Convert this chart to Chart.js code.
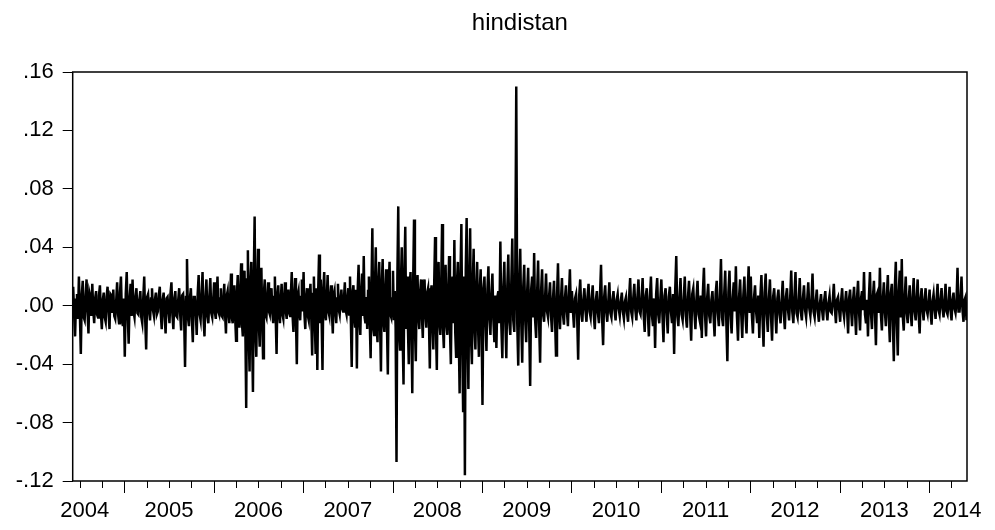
<!DOCTYPE html>
<html>
<head>
<meta charset="utf-8">
<script src="https://cdn.jsdelivr.net/npm/chart.js@4.4.1/dist/chart.umd.min.js"></script>
<style>
  html, body { margin: 0; padding: 0; background: #fff; }
  #wrap { width: 995px; height: 530px; }
</style>
</head>
<body>
<div id="wrap"><canvas id="c" width="995" height="530"></canvas></div>
<script>
// daily returns
const r2004 = [0.013, -0.006, -0.021, 0.004, 0.008, -0.009, 0.020, -0.005, -0.033, 0.007, 0.017, -0.008, -0.010, 0.006,
  0.018, -0.004, -0.019, 0.009, 0.006, -0.007, 0.015, -0.003, -0.012, 0.005, 0.010, -0.006, -0.008, 0.007, 0.014, -0.005,
  -0.016, 0.004, 0.009, -0.008, -0.011, 0.006, 0.013, -0.004, -0.016, 0.008, 0.007, -0.005, 0.011, -0.007, -0.009, 0.003,
  0.016, -0.006, -0.012, 0.009, 0.020, -0.007, -0.014, 0.005];
const r2005 = [-0.035, 0.008, 0.023, -0.006, -0.026, 0.005, 0.015, -0.007, 0.018, -0.004, -0.008, 0.006, 0.012, -0.005,
  -0.006, 0.004, 0.010, -0.008, -0.012, 0.005, 0.020, -0.009, -0.030, 0.006, 0.008, -0.004, -0.010, 0.005, 0.012, -0.003,
  -0.007, 0.004, 0.009, -0.006, -0.004, 0.007, 0.013, -0.005, -0.016, 0.004, 0.009, -0.007, -0.019, 0.005, 0.006, -0.004,
  -0.012, 0.008, 0.016, -0.006, -0.016, 0.005, 0.010, -0.007, -0.008, 0.004, 0.012, -0.006, -0.017, 0.007, 0.008, -0.005,
  -0.042, 0.006, 0.032, -0.008, -0.014, 0.005, 0.012, -0.009, -0.025, 0.006, 0.006, -0.004, -0.020, 0.008, 0.021, -0.006,
  -0.010, 0.007, 0.023, -0.008, -0.021, 0.005, 0.018, -0.007, -0.012, 0.006, 0.019, -0.005, -0.008, 0.004];
const r2006 = [0.016, -0.005, -0.009, 0.006, 0.020, -0.004, -0.006, 0.005, 0.012, -0.007, -0.008, 0.004, 0.015, -0.006,
  -0.019, 0.007, 0.010, -0.005, -0.012, 0.006, 0.022, -0.008, -0.012, 0.005, 0.014, -0.009, -0.024, 0.008, 0.021, -0.007,
  -0.015, 0.010, 0.029, -0.012, -0.021, 0.011, 0.024, -0.015, -0.070, 0.018, 0.038, -0.020, -0.045, 0.016, 0.030, -0.022,
  -0.059, 0.020, 0.061, -0.018, -0.035, 0.014, 0.039, -0.012, -0.028, 0.010, 0.026, -0.011, -0.036, 0.009, 0.018, -0.006,
  -0.008, 0.005, 0.016, -0.004, -0.006, 0.007, 0.012, -0.005, -0.012, 0.006, 0.020, -0.008, -0.033, 0.007, 0.014, -0.005,
  -0.012, 0.004, 0.015, -0.006, -0.009, 0.005, 0.016, -0.004, -0.009, 0.006, 0.011, -0.005, -0.007, 0.008, 0.023, -0.007,
  -0.018, 0.006, 0.019, -0.009, -0.040, 0.007, 0.010, -0.005, -0.010, 0.006, 0.018, -0.004];
const r2007 = [0.023, -0.006, -0.016, 0.005, 0.012, -0.007, -0.010, 0.006, 0.015, -0.009, -0.034, 0.008, 0.020, -0.010,
  -0.033, 0.012, -0.044, 0.010, 0.035, -0.012, 0.018, -0.009, -0.044, 0.011, 0.023, -0.006, -0.010, 0.005, 0.021, -0.004,
  -0.007, 0.006, 0.014, -0.005, -0.019, 0.007, 0.010, -0.004, -0.012, 0.005, 0.015, -0.003, -0.006, 0.004, 0.011, -0.002,
  -0.004, 0.005, 0.016, -0.003, -0.006, 0.004, 0.012, -0.006, 0.020, -0.010, -0.042, 0.009, 0.014, -0.008, -0.015, 0.011,
  -0.043, 0.012, 0.028, -0.010, -0.020, 0.009, 0.022, -0.007, 0.034, -0.008, -0.012, 0.006, -0.016, 0.010, 0.020, -0.012,
  -0.036, 0.014, 0.053, -0.015, -0.020, 0.012, 0.040, -0.014, -0.025, 0.016, 0.030, -0.013, -0.045, 0.015, 0.032, -0.011,
  -0.018, 0.010, 0.025, -0.014, -0.047, 0.012, 0.030, -0.006, -0.008, 0.005];
const r2008 = [0.024, -0.010, 0.010, -0.015, -0.107, 0.020, 0.068, -0.018, -0.030, 0.015, 0.040, -0.020, -0.054, 0.022,
  0.054, -0.016, 0.020, -0.014, -0.040, 0.012, 0.023, -0.015, -0.060, 0.016, 0.059, -0.014, -0.038, 0.010, 0.021, -0.008,
  -0.016, 0.009, 0.018, -0.007, -0.022, 0.008, 0.018, -0.006, -0.015, 0.009, 0.012, -0.010, -0.043, 0.008, 0.014, -0.012,
  -0.030, 0.015, 0.047, -0.016, -0.044, 0.018, 0.030, -0.012, -0.020, 0.014, 0.056, -0.015, -0.029, 0.012, 0.028, -0.013,
  -0.020, 0.010, 0.034, -0.017, -0.040, 0.013, 0.020, -0.012, 0.045, -0.018, -0.035, 0.016, 0.030, -0.020, -0.060, 0.022,
  0.056, -0.025, -0.073, 0.020, -0.116, 0.024, 0.060, -0.020, -0.057, 0.018, 0.053, -0.022, -0.040, 0.016, 0.039, -0.015,
  -0.030, 0.012, 0.030, -0.014, -0.035, 0.011, 0.025, -0.010];
const r2009 = [-0.068, 0.012, 0.020, -0.010, -0.031, 0.011, 0.027, -0.009, -0.020, 0.008, 0.022, -0.010, -0.025, 0.007,
  -0.029, 0.006, 0.010, -0.012, 0.044, -0.014, -0.036, 0.012, 0.030, -0.010, -0.036, 0.013, 0.035, -0.011, -0.020, 0.015,
  0.046, -0.010, -0.018, 0.020, 0.150, -0.012, -0.041, 0.014, 0.039, -0.010, -0.039, 0.012, 0.028, -0.009, -0.025, 0.010,
  0.026, -0.013, -0.055, 0.011, 0.020, -0.008, 0.036, -0.010, -0.022, 0.009, 0.031, -0.012, -0.039, 0.010, 0.025, -0.006,
  -0.011, 0.005, 0.022, -0.004, -0.008, 0.006, 0.016, -0.007, -0.018, 0.005, 0.017, -0.008, -0.034, 0.006, 0.029, -0.005,
  -0.016, 0.004, 0.019, -0.006, -0.013, 0.005, 0.014, -0.004, -0.014, 0.007, 0.025, -0.005];
const r2010 = [0.010, -0.004, -0.015, 0.005, 0.008, -0.006, -0.037, 0.007, 0.018, -0.005, -0.011, 0.004, 0.012, -0.003,
  -0.011, 0.006, 0.015, -0.004, -0.008, 0.005, 0.014, -0.006, -0.016, 0.004, 0.010, -0.005, -0.012, 0.007, 0.028, -0.008,
  -0.027, 0.006, 0.014, -0.004, -0.011, 0.003, 0.016, -0.005, -0.008, 0.004, 0.010, -0.003, -0.010, 0.004, 0.008, -0.002,
  -0.007, 0.003, 0.009, -0.004, -0.009, 0.003, 0.006, -0.005, -0.011, 0.006, 0.019, -0.004, -0.008, 0.005, 0.015, -0.003,
  -0.010, 0.006, 0.018, -0.004, -0.006, 0.005, 0.019, -0.006, -0.018, 0.007, 0.012, -0.005, -0.021, 0.006, 0.020, -0.007,
  -0.014, 0.005, -0.029, 0.008, 0.019, -0.006, -0.012, 0.004];
const r2011 = [0.018, -0.006, -0.025, 0.007, 0.012, -0.005, -0.019, 0.006, 0.013, -0.004, -0.012, 0.008, -0.033, 0.010,
  0.034, -0.007, -0.014, 0.005, 0.019, -0.006, -0.010, 0.004, 0.020, -0.007, -0.015, 0.006, 0.017, -0.005, -0.024, 0.008,
  0.012, -0.004, -0.016, 0.005, 0.017, -0.006, -0.010, 0.007, -0.022, 0.009, 0.026, -0.006, -0.021, 0.005, 0.015, -0.007,
  -0.012, 0.004, 0.010, -0.006, -0.021, 0.008, 0.017, -0.005, -0.014, 0.006, 0.032, -0.008, -0.014, 0.007, 0.024, -0.010,
  -0.038, 0.009, 0.024, -0.006, -0.019, 0.005, 0.016, -0.004, 0.027, -0.007, -0.024, 0.006, 0.018, -0.005, -0.022, 0.007,
  0.020, -0.006, -0.019, 0.008, 0.027, -0.005];
const r2012 = [0.020, -0.006, -0.019, 0.005, 0.014, -0.004, -0.012, 0.007, -0.022, 0.006, 0.021, -0.008, -0.028, 0.009,
  0.022, -0.006, -0.018, 0.005, 0.018, -0.007, -0.024, 0.006, 0.012, -0.004, -0.019, 0.005, 0.011, -0.006, -0.012, 0.004,
  0.017, -0.005, -0.016, 0.006, 0.012, -0.003, -0.010, 0.005, 0.024, -0.004, -0.012, 0.006, 0.023, -0.005, -0.008, 0.003,
  0.019, -0.004, -0.010, 0.005, 0.014, -0.003, -0.008, 0.004, 0.016, -0.002, -0.007, 0.003, 0.022, -0.004, -0.008, 0.003,
  0.011, -0.004, -0.011, 0.002, 0.008, -0.003, -0.010, 0.004, 0.010, -0.003, -0.010, 0.002, 0.007, -0.004, -0.005, 0.003,
  0.015, -0.002, -0.012, 0.004, 0.006, -0.003];
const r2013 = [-0.011, 0.004, 0.012, -0.003, -0.008, 0.002, 0.010, -0.004, -0.019, 0.005, 0.011, -0.003, -0.014, 0.004,
  0.013, -0.005, -0.020, 0.006, 0.017, -0.004, -0.017, 0.005, 0.010, -0.003, 0.023, -0.006, -0.012, 0.004, -0.021, 0.007,
  0.023, -0.005, -0.016, 0.006, 0.017, -0.004, -0.027, 0.008, 0.010, -0.005, 0.026, -0.006, -0.017, 0.005, 0.016, -0.004,
  -0.014, 0.007, 0.021, -0.008, -0.025, 0.009, 0.015, -0.010, -0.038, 0.012, 0.030, -0.011, -0.034, 0.010, 0.024, -0.008,
  0.032, -0.007, -0.017, 0.006, 0.020, -0.005, -0.012, 0.004, 0.014, -0.005, -0.014, 0.006, 0.019, -0.004, -0.010, 0.005,
  0.018, -0.006, -0.019, 0.005, 0.012, -0.003, -0.010, 0.004, 0.012, -0.003, -0.006, 0.002];
const r2014 = [0.011, -0.004, -0.013, 0.003, 0.008, -0.002, -0.009, 0.004, 0.015, -0.003, -0.006, 0.004, 0.012, -0.002,
  -0.008, 0.003, 0.015, -0.004, -0.006, 0.002, 0.013, -0.003, -0.010, 0.004, 0.009, -0.002, -0.005, 0.003, 0.026, -0.004,
  -0.004, 0.005, 0.020, -0.003, -0.011, 0.004, 0.006, -0.010];

// time span (fractional years) covered by each array
const yearSeries = [r2004, r2005, r2006, r2007, r2008, r2009, r2010, r2011, r2012, r2013, r2014];
const yearStarts = [2004.423, 2005, 2006, 2007, 2008, 2009, 2010, 2011, 2012, 2013, 2014];
const yearEnds = [2005, 2006, 2007, 2008, 2009, 2010, 2011, 2012, 2013, 2014, 2014.424];

const yearLabels = ['2004', '2005', '2006', '2007', '2008', '2009', '2010', '2011', '2012', '2013', '2014'];
const yTicks = [-0.12, -0.08, -0.04, 0.00, 0.04, 0.08, 0.12, 0.16];

const points = [];
yearSeries.forEach((vals, k) => {
  const s = yearStarts[k], e = yearEnds[k];
  vals.forEach((v, i) => points.push({ x: s + (i + 0.5) * (e - s) / vals.length, y: v }));
});

const FONT = '"Liberation Sans", Arial, sans-serif';

function fmt(v) {
  const s = Math.abs(v).toFixed(2).replace(/^0/, '');
  return (v < 0 ? '-' : '') + s;
}

// frame, time axis ticks/labels and title
const evPlugin = {
  id: 'evPlugin',
  afterDraw(chart) {
    const { ctx, chartArea: a, scales } = chart;
    const xs = scales.x;
    ctx.save();
    ctx.strokeStyle = '#000';
    ctx.lineWidth = 1.5;
    ctx.strokeRect(a.left, a.top, a.right - a.left, a.bottom - a.top);

    ctx.lineWidth = 1;
    const firstYear = Math.floor(xs.min), lastYear = Math.ceil(xs.max);
    for (let y = firstYear; y <= lastYear; y++) {
      for (let q = 0; q < 4; q++) {
        const v = y + q / 4;
        if (v < xs.min || v > xs.max) continue;
        const px = Math.round(xs.getPixelForValue(v)) + 0.5;
        ctx.beginPath();
        ctx.moveTo(px, a.bottom);
        ctx.lineTo(px, a.bottom + (q === 0 ? 12 : 7));
        ctx.stroke();
      }
    }

    ctx.fillStyle = '#000';
    ctx.font = '22px ' + FONT;
    ctx.textAlign = 'center';
    ctx.textBaseline = 'top';
    yearLabels.forEach((lab) => {
      let px = xs.getPixelForValue(Number(lab) + 0.5);
      px = Math.max(a.left + 12, Math.min(a.right - 10, px));
      ctx.fillText(lab, px, a.bottom + 19);
    });

    ctx.font = '24px ' + FONT;
    ctx.textBaseline = 'middle';
    ctx.fillText('hindistan', (a.left + a.right) / 2, 23);
    ctx.restore();
  }
};

new Chart(document.getElementById('c'), {
  type: 'line',
  data: {
    datasets: [{
      data: points,
      borderColor: '#000',
      borderWidth: 2.5,
      borderJoinStyle: 'miter',
      pointRadius: 0,
      tension: 0,
      fill: false
    }]
  },
  options: {
    responsive: false,
    animation: false,
    layout: { padding: { top: 72, right: 28, bottom: 0, left: 0 } },
    plugins: { legend: { display: false }, tooltip: { enabled: false }, title: { display: false } },
    scales: {
      x: {
        type: 'linear',
        min: yearStarts[0],
        max: yearEnds[yearEnds.length - 1],
        grid: { display: false },
        border: { display: false },
        ticks: { display: false },
        afterFit(scale) { scale.height = 49; }
      },
      y: {
        min: yTicks[0],
        max: yTicks[yTicks.length - 1],
        afterBuildTicks(scale) { scale.ticks = yTicks.map(v => ({ value: v })); },
        grid: { drawOnChartArea: false, tickLength: 10, color: '#000', tickColor: '#000' },
        border: { display: false },
        ticks: {
          color: '#000',
          padding: 9,
          font: { size: 22, family: FONT },
          callback: (v) => fmt(v)
        },
        afterFit(scale) { scale.width = 72.7; }
      }
    }
  },
  plugins: [evPlugin]
});
</script>
</body>
</html>
